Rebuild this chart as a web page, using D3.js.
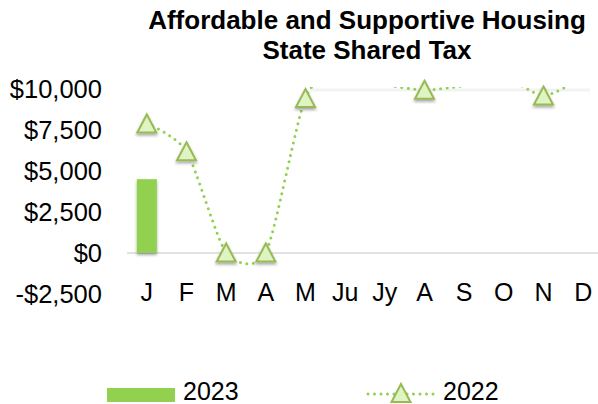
<!DOCTYPE html>
<html>
<head>
<meta charset="utf-8">
<script src="https://cdn.jsdelivr.net/npm/d3@7"></script>
<style>
  body { margin: 0; background: #fff; }
  svg { display: block; font-family: "Liberation Sans", Arial, sans-serif; }
</style>
</head>
<body>
<svg width="598" height="404"></svg>
<script>
// chart data
var months = ["J", "F", "M", "A", "M", "Ju", "Jy", "A", "S", "O", "N", "D"];
var sales2023 = [4500];
var sales2022 = [7900, 6200, 30, 30, 9450, 11500, 10300, 9950, 10200, 10700, 9600, 10700];
var yTicks = [-2500, 0, 2500, 5000, 7500, 10000];
var titleLines = ["Affordable and Supportive Housing", "State Shared Tax"];

var svg = d3.select("svg");
var green = "#92d050";

var x = d3.scaleBand().domain(d3.range(12)).range([127, 603]);
var y = d3.scaleLinear().domain([-2500, 10000]).range([294, 89]);

var defs = svg.append("defs");
var sh = defs.append("filter").attr("id", "shadow")
  .attr("x", "-50%").attr("y", "-50%").attr("width", "200%").attr("height", "200%");
sh.append("feDropShadow").attr("dx", 0).attr("dy", 2).attr("stdDeviation", 1.4)
  .attr("flood-color", "#000").attr("flood-opacity", 0.35);
defs.append("clipPath").attr("id", "plot")
  .append("rect").attr("x", 120).attr("y", y(10000) - 2).attr("width", 480).attr("height", 300);

// title
svg.selectAll(".title").data(titleLines).enter().append("text")
  .attr("class", "title")
  .attr("x", 367)
  .attr("y", function(d, i) { return 29 + i * 30; })
  .attr("text-anchor", "middle")
  .style("font-size", "26px").style("font-weight", "bold")
  .text(function(d) { return d; });

// y axis labels
var fmt = function(d) { return (d < 0 ? "-$" : "$") + d3.format(",")(Math.abs(d)); };
svg.selectAll(".ytick").data(yTicks).enter().append("text")
  .attr("x", 102)
  .attr("y", function(d) { return y(d); })
  .attr("dy", "0.36em")
  .attr("text-anchor", "end")
  .style("font-size", "25.5px")
  .text(fmt);

// zero line
svg.append("line")
  .attr("x1", 127).attr("x2", 598)
  .attr("y1", y(0)).attr("y2", y(0))
  .attr("stroke", "#d9d9d9").attr("stroke-width", 1.5);

// faint shadow along top edge where the line runs off
svg.append("line")
  .attr("x1", 310).attr("x2", 590)
  .attr("y1", y(10000) + 1).attr("y2", y(10000) + 1)
  .attr("stroke", "#000").attr("stroke-opacity", 0.05).attr("stroke-width", 3);

// month labels
svg.selectAll(".xtick").data(months).enter().append("text")
  .attr("x", function(d, i) { return x(i) + x.bandwidth() / 2; })
  .attr("y", 301)
  .attr("text-anchor", "middle")
  .style("font-size", "25px")
  .text(function(d) { return d; });

// 2023 bars
svg.selectAll(".bar").data(sales2023).enter().append("rect")
  .attr("x", function(d, i) { return x(i) + x.bandwidth() / 2 - 10; })
  .attr("width", 20)
  .attr("y", function(d) { return y(d); })
  .attr("height", function(d) { return y(0) - y(d); })
  .attr("fill", green)
  .attr("filter", "url(#shadow)");

// 2022 line
var line = d3.line()
  .x(function(d, i) { return x(i) + x.bandwidth() / 2; })
  .y(function(d) { return y(d); })
  .curve(d3.curveCardinal.tension(0.3));

svg.append("path")
  .datum(sales2022)
  .attr("d", line)
  .attr("clip-path", "url(#plot)")
  .attr("fill", "none")
  .attr("stroke", green)
  .attr("stroke-width", 3)
  .attr("stroke-linecap", "round")
  .attr("stroke-dasharray", "0 6.5");

var tri = "M0,-9L9.5,9L-9.5,9Z";
var pts = sales2022.map(function(d, i) { return {v: d, i: i}; })
  .filter(function(d) { return d.v <= 10000; });
svg.selectAll(".mark").data(pts).enter().append("path")
  .attr("d", tri)
  .attr("transform", function(d) { return "translate(" + (x(d.i) + x.bandwidth() / 2) + "," + y(d.v) + ")"; })
  .attr("fill", "#def4c3")
  .attr("stroke", "#98b954")
  .attr("stroke-width", 2)
  .attr("filter", "url(#shadow)");

// legend
var lg = svg.append("g");
lg.append("rect").attr("x", 107).attr("y", 388).attr("width", 68).attr("height", 14).attr("fill", green);
lg.append("text").attr("x", 183).attr("y", 400).style("font-size", "25px").text("2023");
lg.append("line").attr("x1", 368).attr("x2", 435).attr("y1", 394).attr("y2", 394)
  .attr("stroke", green).attr("stroke-width", 3)
  .attr("stroke-linecap", "round").attr("stroke-dasharray", "0 6.5");
lg.append("path").attr("d", tri).attr("transform", "translate(401,393)")
  .attr("fill", "#def4c3").attr("stroke", "#98b954").attr("stroke-width", 2);
lg.append("text").attr("x", 443).attr("y", 400).style("font-size", "25px").text("2022");
</script>
</body>
</html>
